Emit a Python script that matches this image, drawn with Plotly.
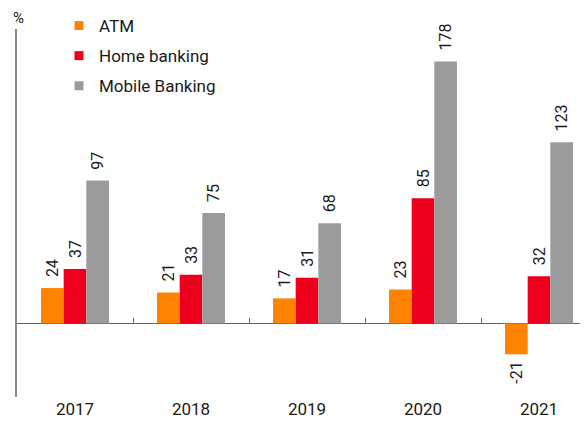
import plotly.graph_objects as go

years = ["2017", "2018", "2019", "2020", "2021"]
atm = [24, 21, 17, 23, -21]
home_banking = [37, 33, 31, 85, 32]
mobile_banking = [97, 75, 68, 178, 123]

series = [
    ("ATM", atm, "#FF8200"),
    ("Home banking", home_banking, "#EC001C"),
    ("Mobile Banking", mobile_banking, "#9B9B9B"),
]

FONT = "Roboto"
NB = "\u00a0"
PAGE_OFF = 8            # default body margin of the page
W, H = 588 - PAGE_OFF, 427 - PAGE_OFF
ML = 17 - PAGE_OFF
PLOT_TOP = 29 - PAGE_OFF
PLOT_BOTTOM = 397 - PAGE_OFF
MB = H - PLOT_BOTTOM
CAT_PX = 116
y_range = [-50, 200]
paper_h = H - MB
dom_top = (paper_h - PLOT_TOP) / paper_h

fig = go.Figure()

for name, vals, color in series:
    labels = [(NB * 2 + str(v)) if v >= 0 else (str(v) + NB) for v in vals]
    fig.add_trace(go.Bar(
        x=years, y=vals, name=name,
        marker=dict(color=color, line=dict(width=0)),
        text=labels, textposition="outside", textangle=-90,
        textfont=dict(family=FONT, size=16, color="#1a1a1a"),
        constraintext="none", cliponaxis=False, showlegend=False,
        hoverinfo="skip",
    ))

# legend-only entries (small square swatches)
for i, (name, vals, color) in enumerate(series):
    fig.add_trace(go.Scatter(
        x=[None], y=[None], mode="markers", name=name,
        marker=dict(symbol="square", size=9, color=color),
        legendgroup=f"g{i}",
    ))

# invisible helper trace for the zero-line tick axis
fig.add_trace(go.Scatter(x=[0], y=[0], xaxis="x2", yaxis="y", mode="markers",
                         marker=dict(opacity=0), showlegend=False, hoverinfo="skip"))

n = len(years)
x_range = [-0.5, -0.5 + (W - ML) / CAT_PX]
zero_pos = dom_top * (0 - y_range[0]) / (y_range[1] - y_range[0])
plot_w = W - ML

fig.update_layout(
    width=W, height=H,
    margin=dict(l=ML, r=0, t=0, b=MB),
    paper_bgcolor="white", plot_bgcolor="white",
    font=dict(family=FONT, size=17, color="#1a1a1a"),
    barmode="group", bargap=0.414, bargroupgap=0,
    xaxis=dict(type="category", range=x_range, showline=False, ticks="",
               showgrid=False, tickfont=dict(size=17, color="#1a1a1a")),
    xaxis2=dict(type="linear", overlaying="x", anchor="free", position=zero_pos,
                range=x_range, tickvals=[i + 0.5 for i in range(n - 1)],
                ticks="inside", ticklen=5, tickcolor="#56618f", tickwidth=1,
                showticklabels=False, showgrid=False, zeroline=False, showline=False),
    yaxis=dict(range=y_range, domain=[0, dom_top], showgrid=False, showticklabels=False,
               ticks="", showline=True, linecolor="#888888", linewidth=1.5,
               zeroline=True, zerolinecolor="#56618f", zerolinewidth=1.3),
    legend=dict(x=(99 - PAGE_OFF - ML - 40) / plot_w, y=1, xanchor="left", yanchor="top",
                font=dict(size=17, color="#1a1a1a"), traceorder="grouped",
                tracegroupgap=5, bgcolor="rgba(0,0,0,0)", itemwidth=30),
    annotations=[dict(text="%", xref="paper", yref="paper", x=0.002,
                      y=1 - (18.5 - PAGE_OFF) / paper_h,
                      xanchor="center", yanchor="middle", borderpad=0, showarrow=False,
                      font=dict(size=15, color="#1a1a1a"))],
)

fig.write_html("out.html")
